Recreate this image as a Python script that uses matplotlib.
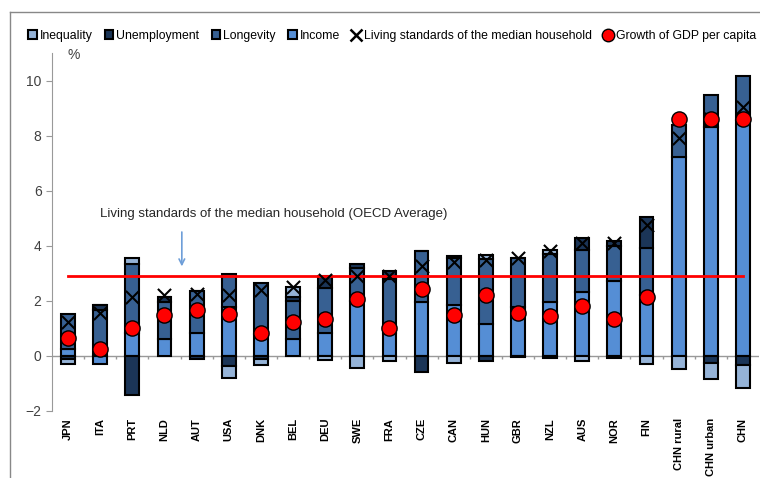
import matplotlib
matplotlib.use("Agg")
import matplotlib.pyplot as plt
import numpy as np
from matplotlib.patches import Patch
from matplotlib.lines import Line2D

plt.rcParams['font.family'] = ['Liberation Sans', 'DejaVu Sans']

countries = ["JPN", "ITA", "PRT", "NLD", "AUT", "USA", "DNK", "BEL", "DEU", "SWE", "FRA",
             "CZE", "CAN", "HUN", "GBR", "NZL", "AUS", "NOR", "FIN", "CHN rural", "CHN urban", "CHN"]
income = [0.26, -0.30, 0.85, 0.60, 0.85, 1.79, 0.80, 0.60, 0.82, 2.00, 0.82,
          1.97, 1.85, 1.17, 1.79, 1.97, 2.33, 2.73, 2.20, 7.22, 8.31, 8.55]
longevity = [1.28, 1.68, 2.50, 1.37, 1.51, 1.20, 1.86, 1.38, 1.63, 1.20, 1.96,
             1.83, 1.70, 2.35, 1.78, 1.73, 1.53, 1.26, 1.72, 1.15, 1.15, 1.63]
unemployment = [-0.10, 0.16, -1.41, 0.18, -0.12, -0.38, -0.10, 0.17, 0.45, 0.13, 0.32,
                -0.57, 0.09, -0.20, -0.05, -0.06, 0.44, 0.19, 1.13, 0.00, -0.27, -0.33]
inequality = [-0.20, 0.00, 0.19, 0.00, 0.00, -0.42, -0.24, 0.35, -0.14, -0.45, -0.20,
              0.00, -0.25, 0.14, 0.00, 0.16, -0.20, -0.08, -0.30, -0.48, -0.58, -0.82]
living_standards = [1.24, 1.55, 2.15, 2.20, 2.24, 2.22, 2.38, 2.50, 2.74, 2.92, 2.92,
                    3.25, 3.42, 3.48, 3.55, 3.82, 4.10, 4.10, 4.75, 7.90, 8.60, 9.05]
gdp_growth = [0.66, 0.24, 1.03, 1.47, 1.65, 1.51, 0.84, 1.24, 1.33, 2.05, 1.00,
              2.44, 1.49, 2.20, 1.55, 1.45, 1.81, 1.34, 2.15, 8.61, 8.59, 8.59]
oecd_average = 2.9
yticks = [-2, 0, 2, 4, 6, 8, 10]

series = [("Income", income, "#558ED5"),
          ("Longevity", longevity, "#376092"),
          ("Unemployment", unemployment, "#1B3557"),
          ("Inequality", inequality, "#95B3D7")]

fig = plt.figure(figsize=(7.6, 4.78), dpi=100)
ax = fig.add_axes([52/760, 67/478, 707/760, 358/478])

x = np.arange(len(countries))
pos_bottom = np.zeros(len(countries))
neg_bottom = np.zeros(len(countries))
for name, vals, col in series:
    v = np.array(vals)
    bottoms = np.where(v >= 0, pos_bottom, neg_bottom)
    ax.bar(x, v, width=0.43, bottom=bottoms, color=col, edgecolor="black", linewidth=1.5, zorder=2)
    pos_bottom = pos_bottom + np.where(v > 0, v, 0)
    neg_bottom = neg_bottom + np.where(v < 0, v, 0)

ax.plot([x[0], x[-1]], [oecd_average, oecd_average], color="#FF0000", lw=2, zorder=3)
ax.scatter(x, living_standards, marker="x", s=90, color="black", linewidths=1.5, zorder=4)
ax.scatter(x, gdp_growth, marker="o", s=120, color="#FF0000", edgecolors="black", linewidths=1.0, zorder=5)

ax.set_xlim(-0.5, len(countries) - 0.5)
ax.set_ylim(-2, 11)
ax.set_yticks(yticks)
ax.tick_params(axis="y", labelsize=10, labelcolor="#404040", color="#999999", length=4, direction="out")
for s in ["top", "right", "bottom"]:
    ax.spines[s].set_visible(False)
ax.spines["left"].set_color("#999999")
ax.axhline(0, color="#999999", lw=1, zorder=1)
ax.vlines(x[:-1] + 0.5, -0.12, 0, color="#999999", lw=1, zorder=1)
ax.set_xticks(x)
ax.set_xticklabels(countries, rotation=90, fontsize=8, fontweight="bold", color="#000000")
ax.tick_params(axis="x", length=0, pad=5)

ax.text(0.022, 0.975, "%", transform=ax.transAxes, fontsize=10, color="#404040",
        ha="left", va="bottom")

ax.text(6.4, 5.15, "Living standards of the median household (OECD Average)",
        fontsize=9.5, color="#262626", ha="center", va="center")
ax.annotate("", xy=(3.54, 3.15), xytext=(3.54, 4.6),
            arrowprops=dict(arrowstyle="->", color="#6E9ED8", lw=1.2))

handles = [Patch(facecolor="#95B3D7", edgecolor="black", linewidth=1.5),
           Patch(facecolor="#1B3557", edgecolor="black", linewidth=1.5),
           Patch(facecolor="#376092", edgecolor="black", linewidth=1.5),
           Patch(facecolor="#558ED5", edgecolor="black", linewidth=1.5),
           Line2D([], [], marker="x", color="black", ls="none", markersize=8, mew=1.8),
           Line2D([], [], marker="o", color="#FF0000", mec="black", ls="none", markersize=9)]
labels = ["Inequality", "Unemployment", "Longevity", "Income",
          "Living standards of the median household", "Growth of GDP per capita"]
fig.legend(handles, labels, loc="center", bbox_to_anchor=(392/760, 1 - 36/478), ncol=6,
           frameon=False, fontsize=8.8, handlelength=0.7, handleheight=0.7,
           handletextpad=0.25, columnspacing=1.0)

fig.add_artist(Line2D([10/760, 1], [1 - 12/478, 1 - 12/478], color="#888888", lw=1))
fig.add_artist(Line2D([10/760, 10/760], [0, 1 - 12/478], color="#888888", lw=1))

fig.savefig("out.png", dpi=100)
